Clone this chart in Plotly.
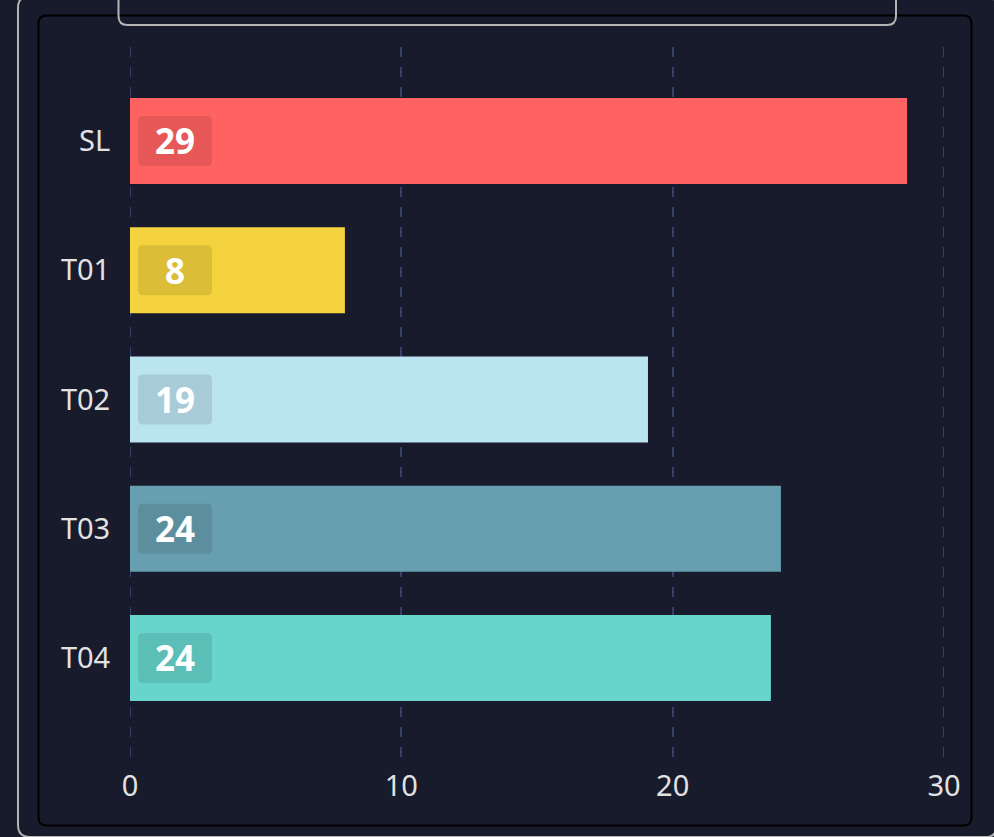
import plotly.graph_objects as go

categories = ["SL", "T01", "T02", "T03", "T04"]
values = [28.64, 7.92, 19.09, 23.99, 23.62]
colors = ["#ff6361", "#f5d33e", "#bae4f0", "#679fb0", "#67d5cc"]
x_ticks = [0, 10, 20, 30]

W, H = 994, 837
L, R, T, B = 130, 50, 47, 80
PW, PH = W - L - R, H - T - B
BG = "#181b2c"
Y_RANGE = [4.766, -0.727]
UNIT = PH / (Y_RANGE[0] - Y_RANGE[1])

def px(x):
    return (x - L) / PW

def py(y):
    return (H - B - y) / PH

def rrect_px(x0, y0, x1, y1, r):
    pts = [
        ("M", [(x0 + r, y0)]),
        ("L", [(x1 - r, y0)]),
        ("Q", [(x1, y0), (x1, y0 + r)]),
        ("L", [(x1, y1 - r)]),
        ("Q", [(x1, y1), (x1 - r, y1)]),
        ("L", [(x0 + r, y1)]),
        ("Q", [(x0, y1), (x0, y1 - r)]),
        ("L", [(x0, y0 + r)]),
        ("Q", [(x0, y0), (x0 + r, y0)]),
    ]
    s = ""
    for cmd, ps in pts:
        s += cmd + " " + " ".join(f"{px(a):.6f},{py(b):.6f}" for a, b in ps) + " "
    return s + "Z"

ypos = list(range(len(categories)))

fig = go.Figure()
fig.add_trace(go.Bar(
    x=values, y=ypos, orientation="h",
    marker=dict(color=colors, line=dict(width=0)),
    width=86 / UNIT, hoverinfo="skip",
))

shapes = []
# edge gridlines (hidden by plotly at range ends)
for xv in (x_ticks[0], x_ticks[-1]):
    shapes.append(dict(type="line", xref="x", yref="paper", layer="below",
                       x0=xv, x1=xv, y0=1, y1=0,
                       line=dict(color="#35406a", width=2, dash="10px,10px")))
# frames
shapes.append(dict(type="path", xref="paper", yref="paper", layer="below",
                   path=rrect_px(18, -4, 997, 837, 12),
                   line=dict(color="#b4b4b4", width=2), fillcolor="rgba(0,0,0,0)"))
shapes.append(dict(type="path", xref="paper", yref="paper", layer="below",
                   path=rrect_px(38.5, 15.5, 971.5, 825.5, 8),
                   line=dict(color="#000000", width=2), fillcolor="rgba(0,0,0,0)"))
shapes.append(dict(type="path", xref="paper", yref="paper", layer="below",
                   path=rrect_px(118.5, -20, 896, 25, 9),
                   line=dict(color="#b4b4b4", width=2), fillcolor="rgba(0,0,0,0)"))

# value badges
bx0, bx1 = px(138), px(212)
rx = 5 / PW
half_h = 25 / UNIT
ry = 5 / UNIT
annotations = []
for i, v in enumerate(values):
    y0, y1 = i - half_h, i + half_h
    p = (f"M {bx0 + rx},{y0} L {bx1 - rx},{y0} Q {bx1},{y0} {bx1},{y0 + ry} "
         f"L {bx1},{y1 - ry} Q {bx1},{y1} {bx1 - rx},{y1} L {bx0 + rx},{y1} "
         f"Q {bx0},{y1} {bx0},{y1 - ry} L {bx0},{y0 + ry} Q {bx0},{y0} {bx0 + rx},{y0} Z")
    shapes.append(dict(type="path", xref="paper", yref="y", layer="above",
                       path=p, line=dict(width=0), fillcolor="rgba(0,0,0,0.1)"))
    annotations.append(dict(x=(bx0 + bx1) / 2, y=i, xref="paper", yref="y",
                            text=f"<b>{round(v)}</b>", showarrow=False,
                            font=dict(family="Noto Sans", size=35, color="#ffffff"),
                            xanchor="center", yanchor="middle"))

fig.update_layout(
    width=W, height=H,
    margin=dict(l=L, r=R, t=T, b=B),
    paper_bgcolor=BG, plot_bgcolor=BG,
    showlegend=False,
    shapes=shapes, annotations=annotations,
    font=dict(family="Noto Sans", color="#e2e2e2", size=29),
    xaxis=dict(range=[0, 30], tickvals=x_ticks, showgrid=True,
               gridcolor="#35406a", gridwidth=2, griddash="10px,10px",
               zeroline=False, showline=False,
               ticks="outside", ticklen=3, tickcolor="rgba(0,0,0,0)",
               tickfont=dict(size=29, color="#e2e2e2")),
    yaxis=dict(range=Y_RANGE, tickvals=ypos, ticktext=categories,
               showgrid=False, zeroline=False, showline=False,
               ticks="outside", ticklen=13, tickcolor="rgba(0,0,0,0)",
               tickfont=dict(size=29, color="#e2e2e2")),
)

fig.write_html("out.html")
